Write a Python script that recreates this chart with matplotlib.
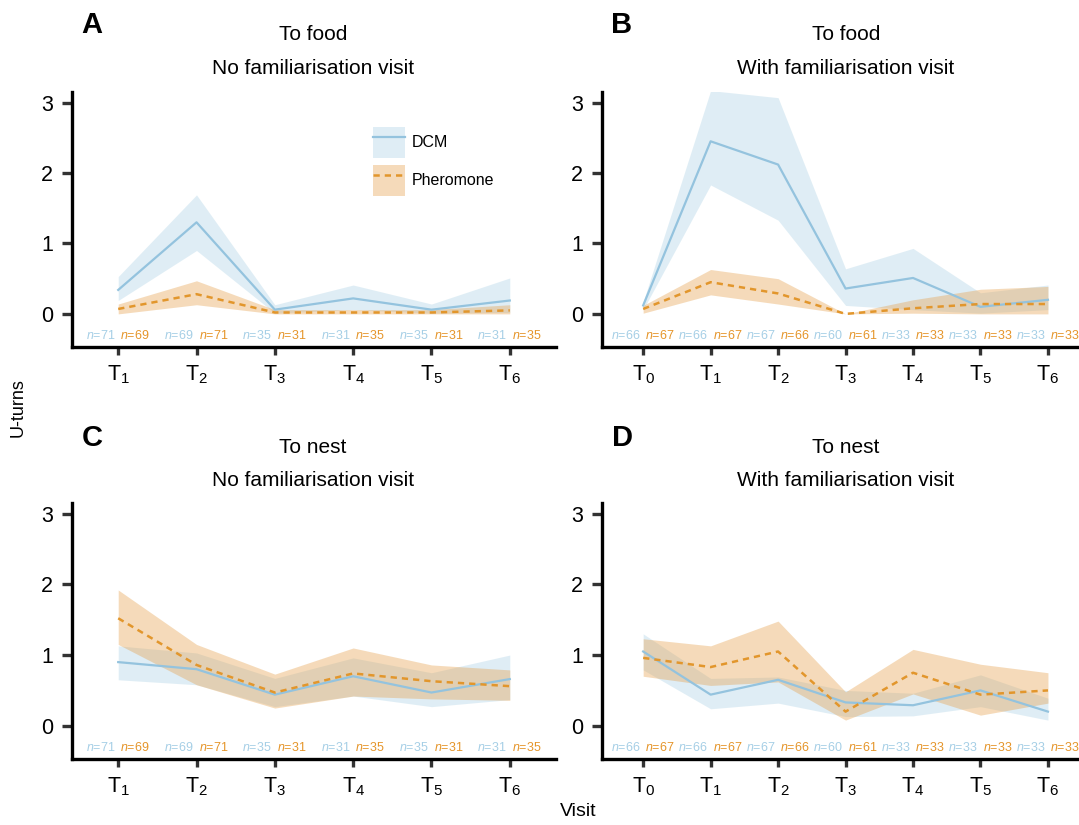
import matplotlib
matplotlib.use("Agg")
import matplotlib.pyplot as plt
from matplotlib.patches import Patch
from matplotlib.lines import Line2D
import numpy as np

plt.rcParams['font.family'] = ['Liberation Sans', 'DejaVu Sans']
plt.rcParams['mathtext.fontset'] = 'custom'
plt.rcParams['mathtext.rm'] = 'Liberation Sans'
plt.rcParams['mathtext.it'] = 'Liberation Sans:italic'

# ---------------- data ----------------
visits_nofam = [1, 2, 3, 4, 5, 6]
visits_fam = [0, 1, 2, 3, 4, 5, 6]
tick_nofam = [r"T$_{1}$", r"T$_{2}$", r"T$_{3}$", r"T$_{4}$", r"T$_{5}$", r"T$_{6}$"]
tick_fam = [r"T$_{0}$", r"T$_{1}$", r"T$_{2}$", r"T$_{3}$", r"T$_{4}$", r"T$_{5}$", r"T$_{6}$"]

n_dcm_nofam = [71, 69, 35, 31, 35, 31]
n_pher_nofam = [69, 71, 31, 35, 31, 35]
n_dcm_fam = [66, 66, 67, 60, 33, 33, 33]
n_pher_fam = [67, 67, 66, 61, 33, 33, 33]

# A: to food, no familiarisation
A_dcm_mean = [0.34, 1.30, 0.06, 0.22, 0.06, 0.19]
A_dcm_lo = [0.19, 0.90, 0.01, 0.06, 0.01, 0.02]
A_dcm_hi = [0.53, 1.69, 0.13, 0.41, 0.14, 0.51]
A_ph_mean = [0.07, 0.28, 0.02, 0.02, 0.02, 0.05]
A_ph_lo = [0.00, 0.13, 0.00, 0.00, 0.00, 0.00]
A_ph_hi = [0.14, 0.47, 0.06, 0.06, 0.06, 0.13]

# B: to food, with familiarisation
B_dcm_mean = [0.12, 2.45, 2.12, 0.36, 0.51, 0.10, 0.20]
B_dcm_lo = [0.06, 1.83, 1.33, 0.12, 0.06, 0.01, 0.06]
B_dcm_hi = [0.17, 3.17, 3.07, 0.64, 0.93, 0.30, 0.41]
B_ph_mean = [0.07, 0.45, 0.29, 0.00, 0.08, 0.14, 0.14]
B_ph_lo = [0.01, 0.27, 0.14, 0.00, 0.01, 0.00, 0.00]
B_ph_hi = [0.12, 0.63, 0.50, 0.00, 0.20, 0.35, 0.39]

# C: to nest, no familiarisation
C_dcm_mean = [0.90, 0.80, 0.44, 0.70, 0.47, 0.66]
C_dcm_lo = [0.65, 0.58, 0.27, 0.42, 0.27, 0.37]
C_dcm_hi = [1.13, 1.03, 0.67, 0.96, 0.75, 1.00]
C_ph_mean = [1.52, 0.86, 0.47, 0.74, 0.63, 0.56]
C_ph_lo = [1.15, 0.58, 0.25, 0.42, 0.38, 0.36]
C_ph_hi = [1.92, 1.15, 0.73, 1.10, 0.86, 0.79]

# D: to nest, with familiarisation
D_dcm_mean = [1.05, 0.44, 0.65, 0.33, 0.29, 0.50, 0.20]
D_dcm_lo = [0.79, 0.24, 0.32, 0.13, 0.14, 0.27, 0.08]
D_dcm_hi = [1.30, 0.67, 0.69, 0.50, 0.46, 0.72, 0.39]
D_ph_mean = [0.96, 0.83, 1.05, 0.20, 0.75, 0.44, 0.50]
D_ph_lo = [0.70, 0.57, 0.62, 0.08, 0.45, 0.15, 0.32]
D_ph_hi = [1.23, 1.13, 1.48, 0.48, 1.08, 0.87, 0.75]

# ---------------- style ----------------
BLUE_LINE = '#94c3de'
BLUE_FILL = '#9ecae1'
ORANGE_LINE = '#e2962c'
ORANGE_FILL = '#e6a04a'
BLUE_TXT = '#a6cfe6'
ORANGE_TXT = '#e5952a'

W, H = 1079, 825
fig = plt.figure(figsize=(W / 100, H / 100), dpi=100)


def px_axes(l, t, r, b):
    return fig.add_axes([l / W, 1 - b / H, (r - l) / W, (b - t) / H])


def panel(ax, x, ticks, dm, dl, dh, pm, pl, ph, nd, npr, xlim):
    ax.fill_between(x, dl, dh, color=BLUE_FILL, alpha=0.32, lw=0)
    ax.plot(x, dm, color=BLUE_LINE, lw=1.6)
    ax.fill_between(x, pl, ph, color=ORANGE_FILL, alpha=0.38, lw=0)
    ax.plot(x, pm, color=ORANGE_LINE, lw=1.8, ls=(0, (2.5, 2)))
    ax.set_xlim(*xlim)
    ax.set_ylim(-0.47, 3.15)
    ax.set_yticks([0, 1, 2, 3])
    ax.set_xticks(x)
    ax.set_xticklabels(ticks)
    for s in ['top', 'right']:
        ax.spines[s].set_visible(False)
    for s in ['left', 'bottom']:
        ax.spines[s].set_linewidth(2.4)
        ax.spines[s].set_color('black')
    ax.tick_params(axis='both', width=2.4, color='#333333', labelsize=15.5)
    ax.tick_params(axis='y', length=7, pad=6.5)
    ax.tick_params(axis='x', length=5.5, pad=6)
    for xi, a, b in zip(x, nd, npr):
        ax.annotate(r"$n$=%d" % a, (xi, -0.31), xytext=(-2, 0),
                    textcoords='offset points', ha='right', va='center',
                    fontsize=9, color=BLUE_TXT)
        ax.annotate(r"$n$=%d" % b, (xi, -0.31), xytext=(1.5, 0),
                    textcoords='offset points', ha='left', va='center',
                    fontsize=9, color=ORANGE_TXT)


axA = px_axes(72, 92, 556, 347)
axB = px_axes(602, 92, 1079, 347)
axC = px_axes(72, 503, 556, 759)
axD = px_axes(602, 503, 1079, 759)

panel(axA, visits_nofam, tick_nofam, A_dcm_mean, A_dcm_lo, A_dcm_hi,
      A_ph_mean, A_ph_lo, A_ph_hi, n_dcm_nofam, n_pher_nofam, (0.41, 6.59))
panel(axB, visits_fam, tick_fam, B_dcm_mean, B_dcm_lo, B_dcm_hi,
      B_ph_mean, B_ph_lo, B_ph_hi, n_dcm_fam, n_pher_fam, (-0.61, 6.46))
panel(axC, visits_nofam, tick_nofam, C_dcm_mean, C_dcm_lo, C_dcm_hi,
      C_ph_mean, C_ph_lo, C_ph_hi, n_dcm_nofam, n_pher_nofam, (0.41, 6.59))
panel(axD, visits_fam, tick_fam, D_dcm_mean, D_dcm_lo, D_dcm_hi,
      D_ph_mean, D_ph_lo, D_ph_hi, n_dcm_fam, n_pher_fam, (-0.61, 6.46))


def ftext(x, y, s, **kw):
    fig.text(x / W, 1 - y / H, s, **kw)


TS = 15
ftext(313, 34, "To food", ha='center', va='center', fontsize=TS)
ftext(313, 68, "No familiarisation visit", ha='center', va='center', fontsize=TS)
ftext(846, 34, "To food", ha='center', va='center', fontsize=TS)
ftext(846, 68, "With familiarisation visit", ha='center', va='center', fontsize=TS)
ftext(313, 447, "To nest", ha='center', va='center', fontsize=TS)
ftext(313, 481, "No familiarisation visit", ha='center', va='center', fontsize=TS)
ftext(846, 447, "To nest", ha='center', va='center', fontsize=TS)
ftext(846, 481, "With familiarisation visit", ha='center', va='center', fontsize=TS)

for lab, x, y in [("A", 92, 25), ("B", 622, 25), ("C", 92, 438), ("D", 622, 438)]:
    ftext(x, y, lab, ha='center', va='center', fontsize=21, fontweight='bold')

ftext(18, 408, "U-turns", ha='center', va='center', fontsize=13, rotation=90)
ftext(578, 812, "Visit", ha='center', va='center', fontsize=14)

# legend
h_dcm = (Patch(facecolor=BLUE_FILL, alpha=0.32, lw=0), Line2D([], [], color=BLUE_LINE, lw=1.6))
h_ph = (Patch(facecolor=ORANGE_FILL, alpha=0.38, lw=0),
        Line2D([], [], color=ORANGE_LINE, lw=1.8, ls=(0, (2.5, 2))))
leg = axA.legend([h_dcm, h_ph], ["DCM", "Pheromone"], loc='upper left',
                 bbox_to_anchor=(373 / W, 1 - 127 / H), bbox_transform=fig.transFigure,
                 frameon=False, fontsize=11.5, handlelength=2.0, handleheight=2.6,
                 labelspacing=0.44, handletextpad=0.45, borderpad=0, borderaxespad=0)

fig.savefig("out.png", dpi=100)
